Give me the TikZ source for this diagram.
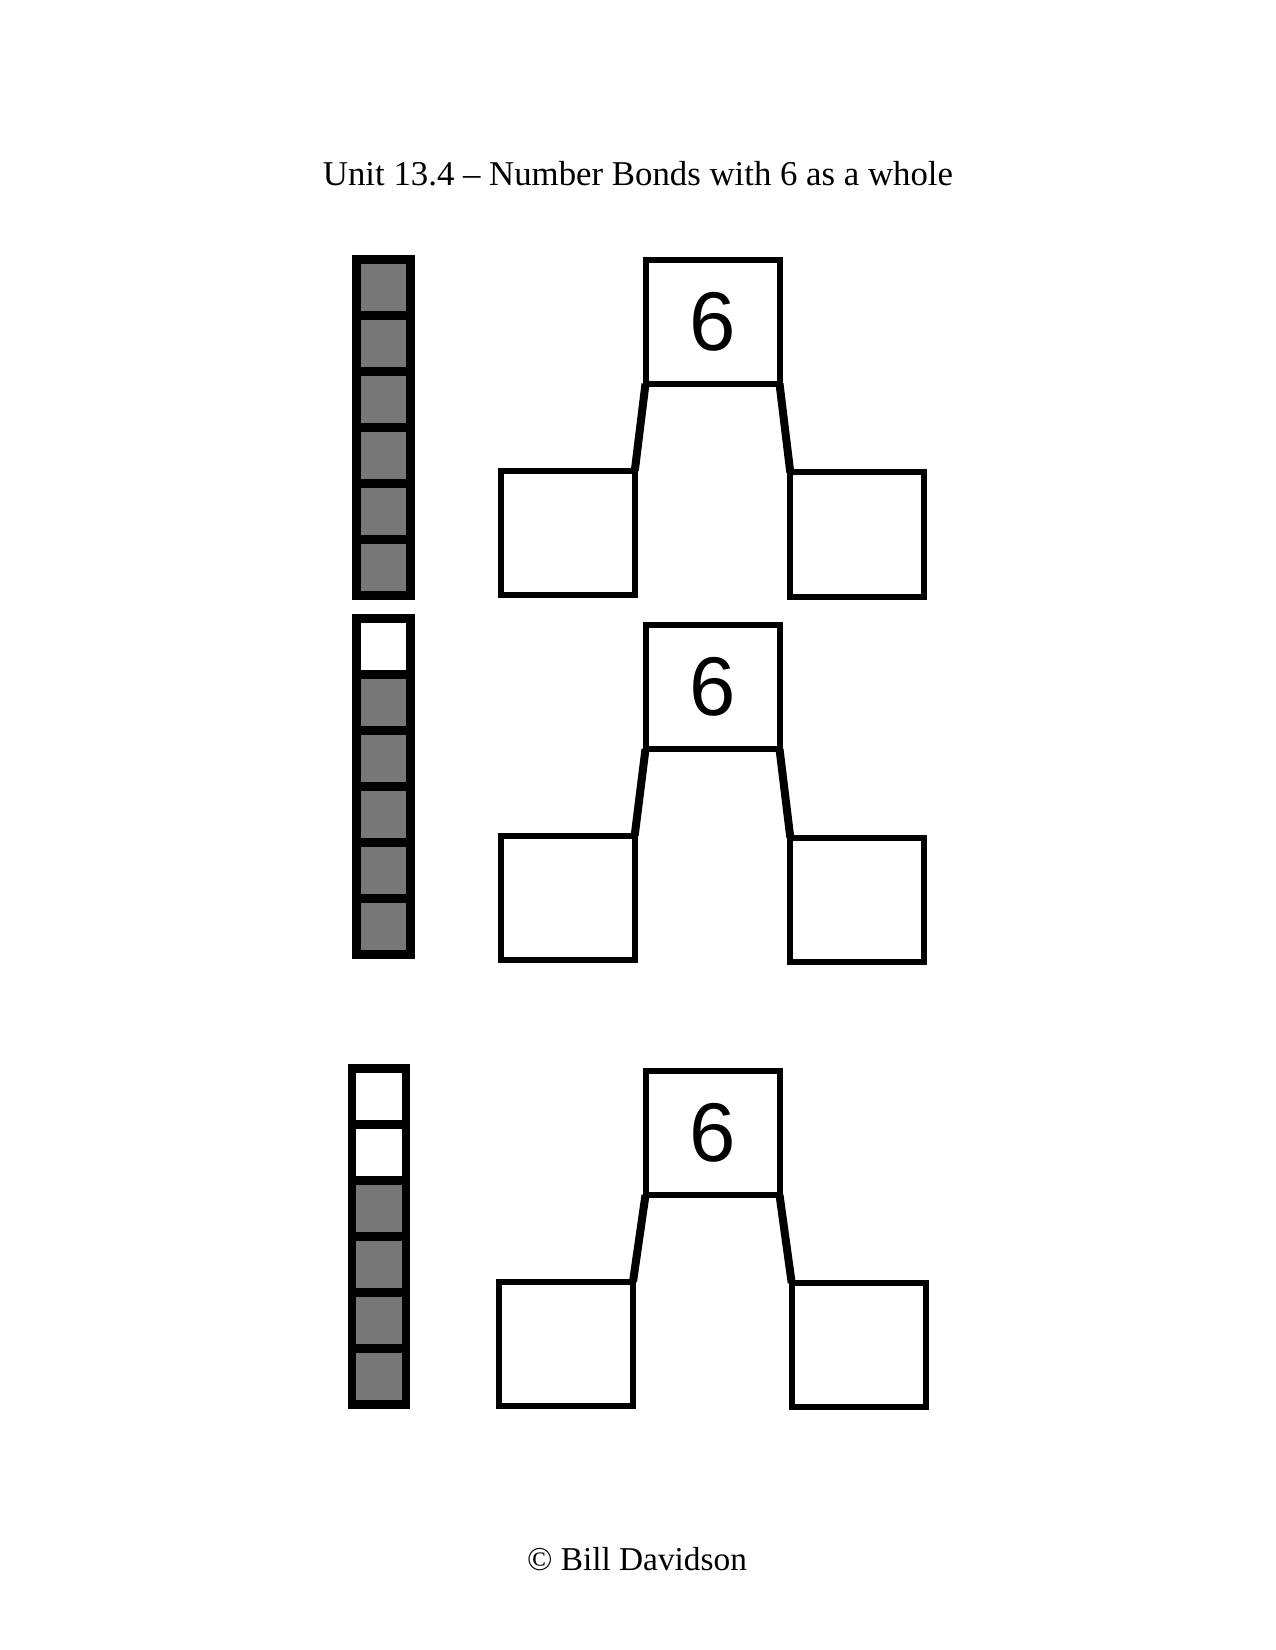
\documentclass[tikz,border=0pt]{standalone}
\usepackage{fontspec}
\setmainfont{Liberation Serif}
\newfontfamily\digitfont{Liberation Sans}
\usepackage{tikz}
\usetikzlibrary{positioning}
\definecolor{cubegray}{RGB}{119,119,119}

\begin{document}
\begin{tikzpicture}[x=0.48pt,y=-0.48pt]
	\useasboundingbox (0,0) rectangle (1275,1650);

	\node (title) at (638,174) {\fontsize{16.7}{20}\selectfont Unit 13.4 -- Number Bonds with 6 as a whole};
	\node (copy) at (637,1559) {\fontsize{16}{19}\selectfont \textcopyright{} Bill Davidson};

	% bond boxes
	\begin{scope}[every node/.style={draw=black,line width=2.88pt,outer sep=0pt,inner sep=0pt,
	              minimum width=64.32pt,minimum height=59.52pt}]
	    \node (whole1) at (712.5,321.7) {\digitfont\fontsize{40}{42}\selectfont 6};
	    \node (partL1) at (567.8,532.7) {};
	    \node (partR1) at (857.3,534.5) {};
	    \node (whole2) at (712.5,687) {\digitfont\fontsize{40}{42}\selectfont 6};
	    \node (partL2) at (567.7,897.5) {};
	    \node (partR2) at (857.3,899.5) {};
	    \node (whole3) at (712.5,1133) {\digitfont\fontsize{40}{42}\selectfont 6};
	    \node (partL3) at (566,1343.7) {};
	    \node (partR3) at (858.7,1345) {};
	\end{scope}

	\begin{scope}[every path/.style={draw=black,line width=3.84pt}]
	    \foreach \g in {1,2,3} {
	        \path (whole\g.south west) -- (partL\g.north east);
	        \path (whole\g.south east) -- (partR\g.north west);
	    }
	\end{scope}

	% cube towers
	\begin{scope}[every node/.style={draw=black,line width=4.08pt,outer sep=0pt,inner sep=0pt,
	              minimum width=25.92pt,minimum height=26.88pt,fill=cubegray},
	              blank/.style={fill=white}]
	    \node (cubeA1) at (383.5,287.5) {};
	    \foreach \i [count=\j from 2] in {1,...,5}
	        \node (cubeA\j) [below=0pt of cubeA\i] {};

	    \node (cubeB1) [blank] at (383.5,646.5) {};
	    \foreach \i [count=\j from 2] in {1,...,5}
	        \node (cubeB\j) [below=0pt of cubeB\i] {};

	    \node (cubeC1) [blank] at (378.8,1096.6) {};
	    \node (cubeC2) [blank,below=0pt of cubeC1] {};
	    \foreach \i [count=\j from 3] in {2,...,5}
	        \node (cubeC\j) [below=0pt of cubeC\i] {};
	\end{scope}
\end{tikzpicture}
\end{document}
